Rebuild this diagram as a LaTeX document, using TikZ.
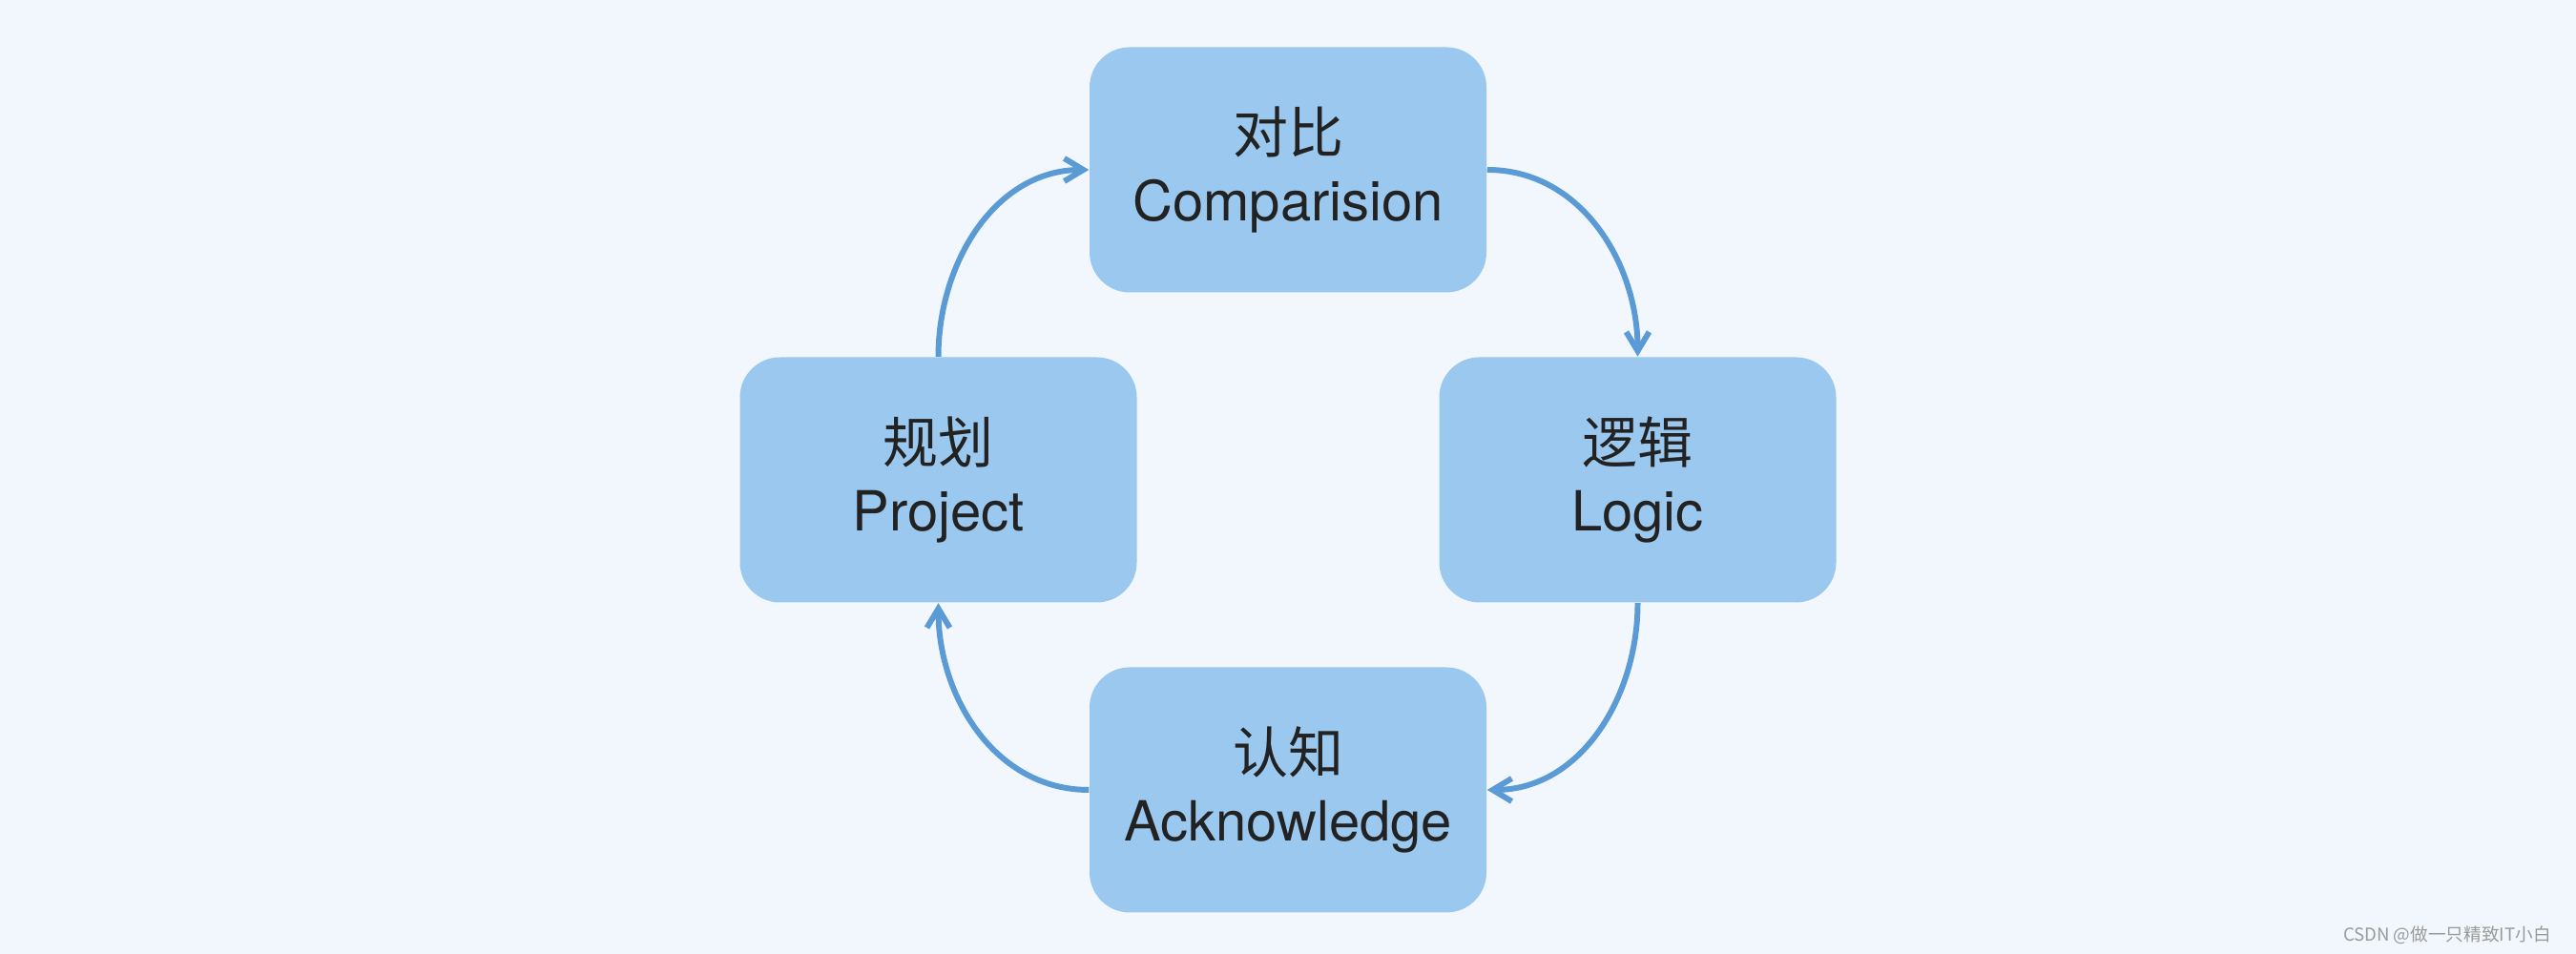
\documentclass[tikz,border=0pt]{standalone}
\usepackage{fontspec}
\setmainfont{TeX Gyre Heros}
\newfontfamily\cjk{Noto Sans CJK SC}
\usetikzlibrary{arrows.meta}
\definecolor{bgblue}{HTML}{F2F7FD}
\definecolor{boxblue}{HTML}{9BC8EF}
\definecolor{linkblue}{HTML}{5B9BD5}
\definecolor{inkgray}{HTML}{222222}
\definecolor{markgray}{HTML}{9A9A9A}

\tikzset{
  stage/.style={fill=boxblue, rounded corners=0.42cm, minimum width=4.16cm,
    minimum height=2.57cm, inner sep=0pt, align=center, text=inkgray,
    font=\fontsize{16.5}{20}\selectfont},
  link/.style={draw=linkblue, line width=1.7pt,
    -{Straight Barb[length=0.2cm,width=0.24cm]}},
}

\begin{document}
\begin{tikzpicture}
\useasboundingbox (0,0) rectangle (27,10);
\fill[bgblue] (0,0) rectangle (27,10);

\node[stage] (compare) at (13.5,8.22) {{\cjk 对比}\\Comparision};
\node[stage] (logic) at (17.165,4.97) {{\cjk 逻辑}\\Logic};
\node[stage] (acknow) at (13.5,1.72) {{\cjk 认知}\\Acknowledge};
\node[stage] (project) at (9.835,4.97) {{\cjk 规划}\\Project};

% the cycle
\draw[link] (compare.east) to[out=0,in=90] (logic.north);
\draw[link] (logic.south) to[out=-90,in=0] (acknow.east);
\draw[link] (acknow.west) to[out=180,in=-90] (project.south);
\draw[link] (project.north) to[out=90,in=180] (compare.west);

\node[anchor=east, text=markgray, font=\cjk\fontsize{5.3}{7}\selectfont] (mark) at (26.86,0.2) {CSDN @做一只精致IT小白};
\end{tikzpicture}
\end{document}
